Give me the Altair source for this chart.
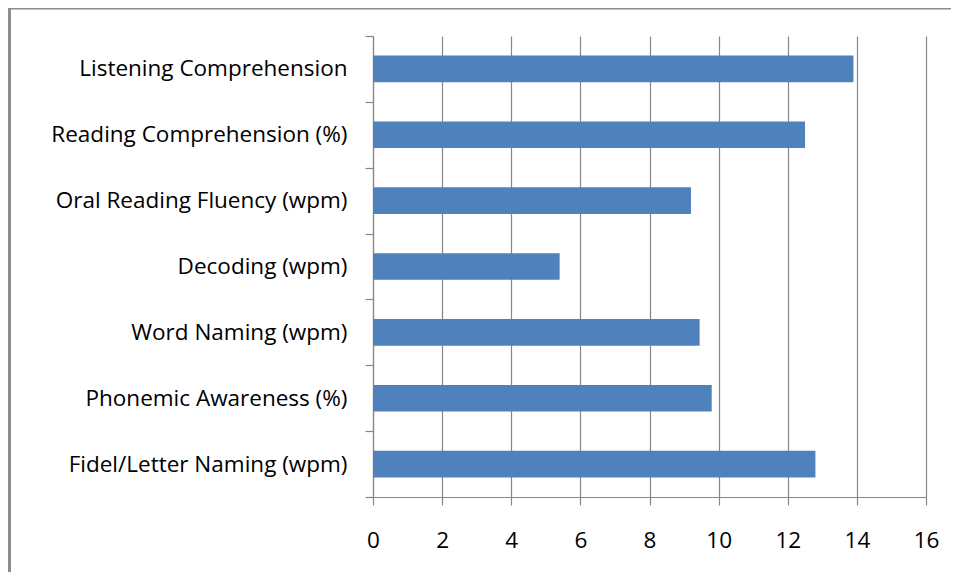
import altair as alt
import pandas as pd

categories = [
    "Listening Comprehension",
    "Reading Comprehension (%)",
    "Oral Reading Fluency (wpm) ",
    "Decoding (wpm)",
    "Word Naming (wpm)",
    "Phonemic Awareness (%)",
    "Fidel/Letter Naming (wpm)",
]
values = [13.9, 12.5, 9.2, 5.4, 9.45, 9.8, 12.8]
x_ticks = [0, 2, 4, 6, 8, 10, 12, 14, 16]

df = pd.DataFrame({"category": categories, "value": values})

GRAY = "#868686"
FONT = "Open Sans"
FS = 22.5

bars = alt.Chart(df).mark_bar(
    color="#4F81BD", height=alt.RelativeBandSize(0.405)
).encode(
    x=alt.X(
        "value:Q",
        scale=alt.Scale(domain=[0, 16], nice=False, zero=True),
        axis=alt.Axis(
            values=x_ticks,
            title=None,
            grid=True,
            gridColor=GRAY,
            gridWidth=1.2,
            domainColor=GRAY,
            domainWidth=1.2,
            tickColor=GRAY,
            tickWidth=1.2,
            tickSize=8,
            labelFont=FONT,
            labelFontSize=FS,
            labelColor="#000000",
            labelPadding=24,
            labelFlush=False,
        ),
    ),
    y=alt.Y(
        "category:N",
        sort=None,
        scale=alt.Scale(paddingInner=0, paddingOuter=0),
        axis=alt.Axis(
            title=None,
            grid=False,
            tickBand="extent",
            tickColor=GRAY,
            tickWidth=1.2,
            tickSize=8,
            domainColor=GRAY,
            domainWidth=1.2,
            labelFont=FONT,
            labelFontSize=FS,
            labelColor="#000000",
            labelPadding=18,
            labelLimit=400,
        ),
    ),
)

frame_data = alt.Data(values=[{"k": 1}])
left_frame = alt.Chart(frame_data).mark_rule(color="#8c8c8c", strokeWidth=3).encode(
    x=alt.value(-363.5), y=alt.value(-28), y2=alt.value(700)
)
top_frame = alt.Chart(frame_data).mark_rule(color="#8c8c8c", strokeWidth=3).encode(
    x=alt.value(-365), x2=alt.value(800), y=alt.value(-28)
)

chart = (
    alt.layer(bars, left_frame, top_frame)
    .properties(
        width=553,
        height=461,
        autosize=alt.AutoSizeParams(type="none"),
        padding={"left": 365, "top": 28, "right": 25, "bottom": 75},
        background="white",
    )
    .configure_view(stroke=None)
)

chart.save("out.html", embed_options={"renderer": "svg", "actions": False})
